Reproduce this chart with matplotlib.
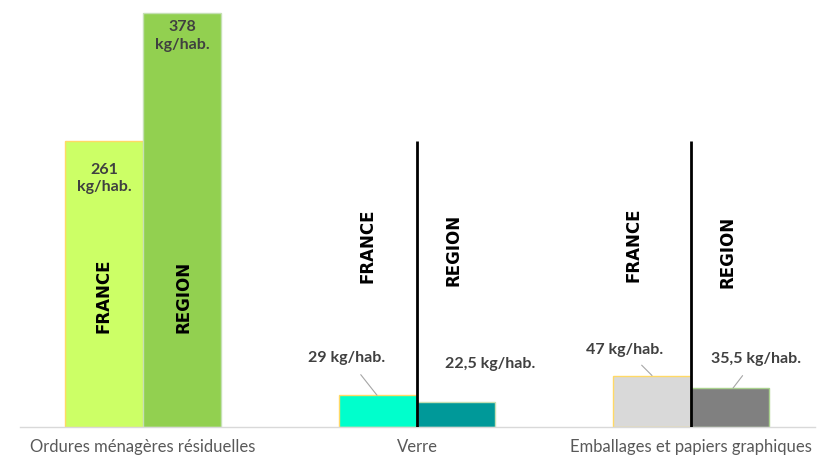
import matplotlib.pyplot as plt
import numpy as np

# Déchets ménagers par habitant : France / Région
categories = ["Ordures ménagères résiduelles", "Verre", "Emballages et papiers graphiques"]
france = [261, 29, 47]
region = [378, 22.5, 35.5]
france_labels = ["261\nkg/hab.", "29 kg/hab.", "47 kg/hab."]
region_labels = ["378\nkg/hab.", "22,5 kg/hab.", "35,5 kg/hab."]
separator_height = 261

france_colors = ["#CCFF66", "#00FFCC", "#D9D9D9"]
region_colors = ["#92D050", "#009999", "#808080"]
france_edges = ["#FFD966", "#FFD966", "#FFD966"]
region_edges = ["#C5E0B4", "#C5E0B4", "#A9D18E"]

W, H = 817, 460
fig = plt.figure(figsize=(W / 100, H / 100), dpi=100)
ax = fig.add_axes([20 / W, 1 - 428 / H, 795 / W, 428 / H])

x = np.arange(len(categories))
bw = 78 / 274
ax.bar(x - bw / 2, france, bw, color=france_colors, edgecolor=france_edges, linewidth=1, zorder=2)
ax.bar(x + bw / 2, region, bw, color=region_colors, edgecolor=region_edges, linewidth=1, zorder=2)

# traits de séparation sur les deux petites catégories
ax.vlines(x[1:], 0, separator_height, color="black", linewidth=2, zorder=3)

ax.set_xlim(-123 / 274, 672 / 274)
ax.set_ylim(0, 428 / 1.0952)

for s in ["top", "left", "right"]:
    ax.spines[s].set_visible(False)
ax.spines["bottom"].set_color("#D9D9D9")
ax.spines["bottom"].set_linewidth(1)
ax.set_yticks([])
ax.set_xticks(x)
ax.set_xticklabels(categories, fontsize=12, color="#595959", family="Lato")
ax.tick_params(axis="x", length=0, pad=8)

val_kw = dict(fontsize=11.5, fontweight="bold", color="#404040", family="Lato",
              ha="center", va="center", linespacing=1.3, zorder=4)
line_kw = dict(arrowstyle="-", color="#A6A6A6", lw=0.8, shrinkA=7, shrinkB=0)

# étiquettes de valeurs (offsets en pixels depuis le haut des barres)
ax.annotate(france_labels[0], (x[0] - bw / 2, france[0]), xytext=(0, -36),
            textcoords="offset pixels", **val_kw)
ax.annotate(region_labels[0], (x[0] + bw / 2, region[0]), xytext=(0, -22),
            textcoords="offset pixels", **val_kw)
ax.annotate(france_labels[1], (x[1] - 40 / 274, france[1]), xytext=(-30, 38),
            textcoords="offset pixels", arrowprops=line_kw, **val_kw)
ax.annotate(region_labels[1], (x[1] + bw / 2, region[1]), xytext=(34, 39),
            textcoords="offset pixels", **val_kw)
ax.annotate(france_labels[2], (x[2] - 39 / 274, france[2]), xytext=(-27, 27),
            textcoords="offset pixels", arrowprops=line_kw, **val_kw)
ax.annotate(region_labels[2], (x[2] + 42 / 274, region[2]), xytext=(23, 30),
            textcoords="offset pixels", arrowprops=line_kw, **val_kw)

# noms des séries, écrits verticalement
name_kw = dict(fontsize=12, fontweight="bold", color="black", rotation=90,
               family=["Liberation Sans Narrow", "DejaVu Sans"],
               ha="center", va="center", zorder=4)
for (px, py, txt) in [(103, 296, "FRANCE"), (183, 297, "REGION"),
                      (367, 246, "FRANCE"), (453, 250, "REGION"),
                      (633, 245, "FRANCE"), (727, 252, "REGION")]:
    fig.text(px / W, 1 - py / H, txt, **name_kw)

fig.savefig("out.png", dpi=100)
